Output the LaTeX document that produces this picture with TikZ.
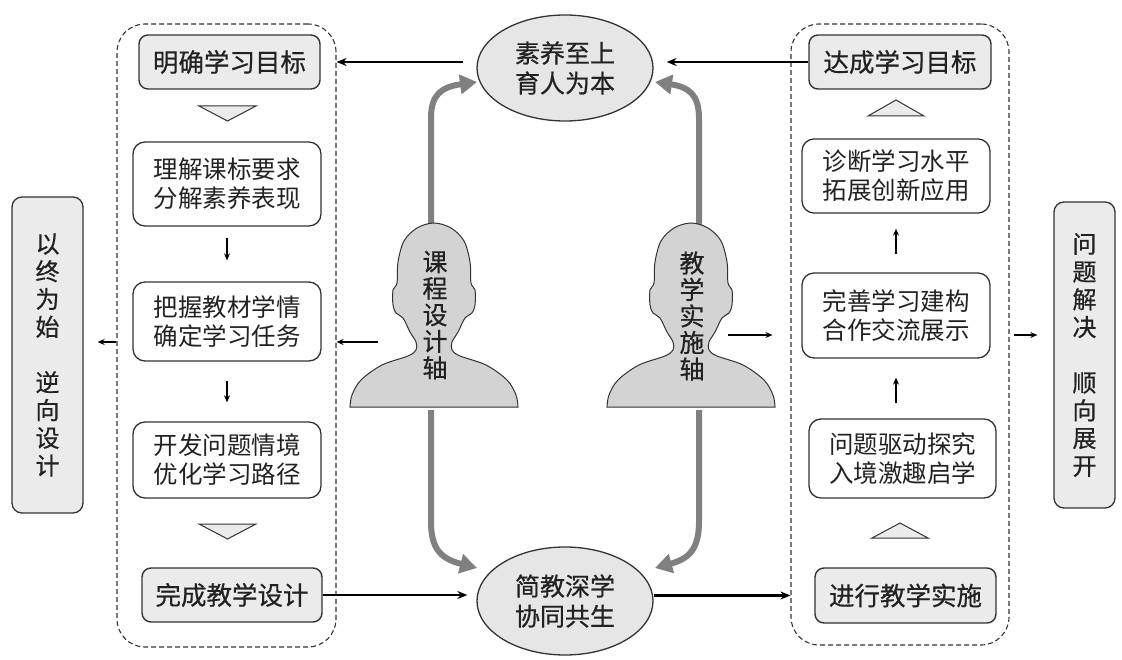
\documentclass[tikz,border=0pt]{standalone}
\usepackage{fontspec}
\newfontfamily\cjk{Noto Sans CJK SC}
\newfontfamily\cjkb[FakeBold=0.6]{Noto Sans CJK SC}
\usetikzlibrary{arrows.meta,shapes.geometric}
\definecolor{bdr}{HTML}{333333}
\definecolor{txt}{HTML}{222222}
\definecolor{boxgray}{HTML}{EBEBEB}
\definecolor{ellgray}{HTML}{E6E6E6}
\definecolor{headgray}{HTML}{D3D3D3}
\definecolor{axisgray}{HTML}{808080}
\begin{document}
\begin{tikzpicture}[x=1pt,y=-1pt,
  every node/.style={text=txt},
  container/.style={draw=bdr, line width=1.1pt, dash pattern=on 5pt off 3pt, rounded corners=28pt, inner sep=0pt},
  keybox/.style={draw=bdr, line width=1.4pt, fill=boxgray, rounded corners=9pt, inner sep=0pt, font=\cjkb\fontsize{25.5}{30}\selectfont},
  stepbox/.style={draw=bdr, line width=1.3pt, fill=white, rounded corners=12pt, inner sep=0pt, align=center, font=\cjk\fontsize{24.5}{29}\selectfont},
  sidebox/.style={draw=bdr, line width=1.3pt, fill=boxgray, rounded corners=10pt, inner sep=0pt, align=center, font=\cjkb\fontsize{24}{27.75}\selectfont},
  core/.style={ellipse, draw=bdr, line width=1.3pt, fill=ellgray, minimum width=176pt, minimum height=106pt, inner sep=0pt, align=center, font=\cjkb\fontsize{25}{30}\selectfont},
  headtxt/.style={align=center, inner sep=0pt, font=\cjkb\fontsize{25}{26.5}\selectfont},
  tri/.style={draw=bdr, fill=boxgray, line width=1pt, line join=miter},
  bigarrow/.style={draw=black, line width=2.7pt, -{Stealth[length=10pt,width=8pt]}},
  smallarrow/.style={draw=black, line width=1.1pt, -{Stealth[length=7pt,width=6pt]}},
  axisarrow/.style={draw=axisgray, line width=6pt, -{Triangle[length=17pt,width=19pt]}},
  headshape/.style={draw=bdr, line width=1pt, fill=headgray},
  bust/.pic={
    \draw[headshape] plot[smooth, tension=0.55] coordinates {
      (-84,407) (-82,395) (-73,380) (-52,365) (-26,356) (-18,350) (-18,342)
      (-24,332) (-31,318) (-38,313) (-41,305) (-41,290) (-37,283) (-36,262)
      (-30,241) (-17,228) (0,223) (17,228) (30,241) (36,262) (37,283)
      (41,290) (41,305) (38,313) (31,318) (24,332) (18,342) (18,350)
      (26,356) (52,365) (73,380) (82,395) (84,407)} -- cycle;
  }
]
\fill[white] (0,0) rectangle (1122,660);
\useasboundingbox (0,0) rectangle (1122,660);

% containers
\node[container, minimum width=219pt, minimum height=623pt] (leftC) at (226.5,335.5) {};
\node[container, minimum width=218pt, minimum height=621pt] (rightC) at (900,334.5) {};

% left column
\node[keybox, minimum width=181pt, minimum height=54pt] (L1) at (229.5,62) {明确学习目标};
\node[stepbox, minimum width=188pt, minimum height=84pt] (L2) at (227,184) {理解课标要求\\分解素养表现};
\node[stepbox, minimum width=188pt, minimum height=79pt] (L3) at (227,321.5) {把握教材学情\\确定学习任务};
\node[stepbox, minimum width=188pt, minimum height=76pt] (L4) at (227,460) {开发问题情境\\优化学习路径};
\node[keybox, minimum width=180pt, minimum height=54pt] (L5) at (232,595) {完成教学设计};

% right column
\node[keybox, minimum width=182pt, minimum height=54pt] (R1) at (900,62) {达成学习目标};
\node[stepbox, minimum width=188pt, minimum height=74pt] (R2) at (896,176) {诊断学习水平\\拓展创新应用};
\node[stepbox, minimum width=188pt, minimum height=85pt] (R3) at (896,315.5) {完善学习建构\\合作交流展示};
\node[stepbox, minimum width=187pt, minimum height=79pt] (R4) at (902.5,458.5) {问题驱动探究\\入境激趣启学};
\node[keybox, minimum width=181pt, minimum height=55pt] (R5) at (905.5,595.5) {进行教学实施};

% side boxes
\node[sidebox, minimum width=71pt, minimum height=316pt] (sideL) at (47.5,355) {以\\终\\为\\始\\[27.75pt]逆\\向\\设\\计};
\node[sidebox, minimum width=61pt, minimum height=306pt] (sideR) at (1084.5,355) {问\\题\\解\\决\\[27.75pt]顺\\向\\展\\开};

% core ellipses
\node[core] (top) at (565,68) {素养至上\\育人为本};
\node[core, minimum height=108pt] (bot) at (565,601) {简教深学\\协同共生};

% triangles
\draw[tri] (199,106) -- (256,106) -- (227.5,121) -- cycle;
\draw[tri] (199,524) -- (256,524) -- (227.5,539) -- cycle;
\draw[tri] (868,116) -- (924,116) -- (896,100) -- cycle;
\draw[tri] (872,538) -- (928,538) -- (900,523) -- cycle;

% axis arrows (drawn under the heads)
\coordinate (gTL) at (431,240);
\coordinate (gBL) at (431,410);
\coordinate (gTR) at (699,240);
\coordinate (gBR) at (699,410);
\coordinate (tTL) at (477,82);
\coordinate (tBL) at (477,568);
\coordinate (tTR) at (655,82);
\coordinate (tBR) at (655,568);
\draw[axisarrow] (gTL) -- (431,118) .. controls (431,95) and (441,87) .. (tTL);
\draw[axisarrow] (gBL) -- (431,522) .. controls (431,550) and (442,559) .. (tBL);
\draw[axisarrow] (gTR) -- (699,118) .. controls (699,95) and (689,87) .. (tTR);
\draw[axisarrow] (gBR) -- (699,522) .. controls (699,550) and (688,559) .. (tBR);

% heads
\pic at (434,0) {bust};
\pic at (691,0) {bust};
\node[headtxt] (axL) at (435,315) {课\\程\\设\\计\\轴};
\node[headtxt] (axR) at (692,316) {教\\学\\实\\施\\轴};

% black arrows
\draw[bigarrow, shorten <=13pt] ([yshift=6pt]top.west) -- ([yshift=6pt]top.west -| leftC.east);
\draw[bigarrow, shorten >=13pt] (R1.west) -- (R1.west -| top.east);
\draw[bigarrow, shorten >=9pt] (L5.east) -- (L5.east -| bot.west);
\draw[bigarrow] (R5.west -| bot.east) -- (R5.west -| rightC.west);

\coordinate (hl) at (378,342);
\coordinate (hr) at (728,335);
\draw[smallarrow] (hl) -- (hl -| leftC.east);
\draw[smallarrow, shorten >=14pt] (hl -| leftC.west) -- (hl -| sideL.east);
\draw[smallarrow, shorten >=18pt] (hr) -- (hr -| rightC.west);
\draw[smallarrow, shorten <=4pt, shorten >=16pt] (hr -| rightC.east) -- (hr -| sideR.west);

\draw[smallarrow, shorten <=11pt, shorten >=21pt] (L2.south) -- (L3.north);
\draw[smallarrow, shorten <=19pt, shorten >=19pt] (L3.south) -- (L4.north);
\draw[smallarrow, shorten <=18pt, shorten >=15pt] (R3.north) -- (R2.south);
\draw[smallarrow, shorten <=15pt, shorten >=19pt] (R3.south |- R4.north) -- (R3.south);
\end{tikzpicture}
\end{document}
